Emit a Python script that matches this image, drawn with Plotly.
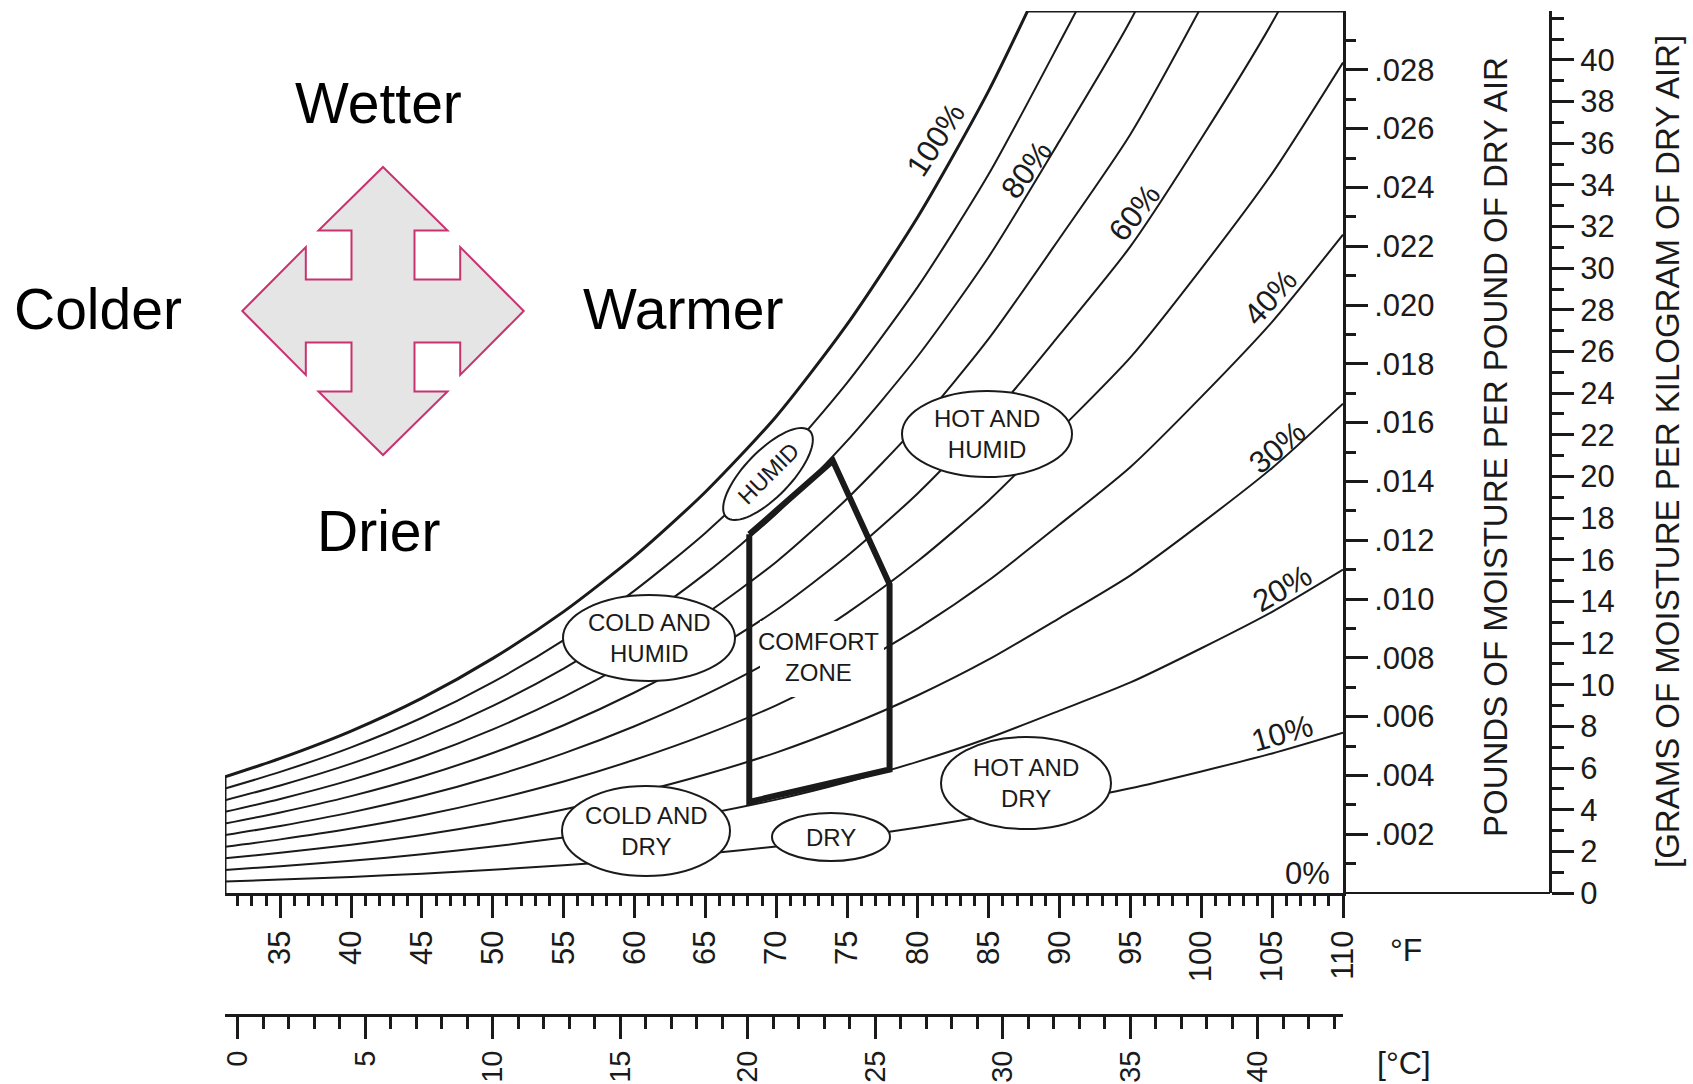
import numpy as np
import plotly.graph_objects as go

FIG_W, FIG_H = 1693, 1084

# ---------------- chart data ----------------
# dry-bulb temperature (deg F) and humidity ratio on the saturation (100 %) curve
TEMP_F = [31.1, 35, 40, 45, 50, 55, 60, 65, 70, 75, 80, 85, 90, 95, 100, 105, 110]
W_SAT = [0.00395, 0.00458, 0.00551, 0.00663, 0.00798, 0.00957, 0.01145, 0.01364,
         0.01621, 0.01934, 0.02300, 0.02729, 0.03231, 0.03754, 0.04398, 0.05096, 0.05918]
RH_LEVELS = [100, 90, 80, 70, 60, 50, 40, 30, 20, 10]
P_ATM = 14.696  # psia
RH_LABELS = ["100%", "80%", "60%", "40%", "30%", "20%", "10%", "0%"]

COMFORT_T = [68.1, 74.0, 78.0, 78.0, 68.1, 68.1]
COMFORT_W = [0.0122, 0.0147, 0.0105, 0.0042, 0.0031, 0.0122]

F_TICKS = list(range(35, 111, 5))
C_TICKS = list(range(0, 41, 5))
W_TICKS = [0.002, 0.004, 0.006, 0.008, 0.010, 0.012, 0.014, 0.016, 0.018, 0.020,
           0.022, 0.024, 0.026, 0.028]
W_TICK_TEXT = [".002", ".004", ".006", ".008", ".010", ".012", ".014", ".016", ".018",
               ".020", ".022", ".024", ".026", ".028"]
G_TICKS = list(range(0, 41, 2))

X_RANGE = [TEMP_F[0], 110]
Y_MAX = 0.0300
G_MAX = 42.35

# ---------------- layout geometry (pixels) ----------------
PLOT_L, PLOT_R, PLOT_T, PLOT_B = 225, 1343, 11, 893
G_AXIS_X = 1550
C_AXIS_Y = 1015
INK = "#1a1a1a"
FONT = "Liberation Sans"


def px(x):
    return x / FIG_W


def py(y):
    return 1 - y / FIG_H


fig = go.Figure()

# relative-humidity curves derived from the saturation curve
ws = np.array(W_SAT)
ps = P_ATM * ws / (0.622 + ws)
for rh in RH_LEVELS:
    pv = rh / 100 * ps
    w = 0.622 * pv / (P_ATM - pv)
    fig.add_trace(go.Scatter(
        x=TEMP_F, y=w, mode="lines",
        line=dict(color=INK, width=3 if rh == 100 else 2, shape="spline", smoothing=0.7),
        hoverinfo="skip", showlegend=False))

# left frame edge (from 0 up to the saturation curve)
fig.add_trace(go.Scatter(x=[TEMP_F[0], TEMP_F[0]], y=[0, W_SAT[0]], mode="lines",
                         line=dict(color=INK, width=3), hoverinfo="skip", showlegend=False))

# comfort zone
fig.add_trace(go.Scatter(x=COMFORT_T, y=COMFORT_W, mode="lines",
                         line=dict(color=INK, width=6), hoverinfo="skip", showlegend=False))

# invisible traces to activate secondary axes
fig.add_trace(go.Scatter(x=[10], y=[0.01], xaxis="x2", yaxis="y", mode="markers",
                         marker=dict(opacity=0), hoverinfo="skip", showlegend=False))
fig.add_trace(go.Scatter(x=[50], y=[10], xaxis="x", yaxis="y2", mode="markers",
                         marker=dict(opacity=0), hoverinfo="skip", showlegend=False))

tick_font = dict(family=FONT, size=31, color=INK)
c_tick_font = dict(family=FONT, size=29, color=INK)
x_dom = [px(PLOT_L), px(PLOT_R)]
y_dom = [py(PLOT_B), py(PLOT_T)]

f_minor = [t for t in range(32, 110) if t % 5]
c_minor = [t for t in range(1, 44) if t % 5]
w_minor = [0.001 * k for k in range(1, 30, 2)]
g_minor = list(range(1, 42, 2)) + [42]

fig.update_layout(
    width=FIG_W, height=FIG_H, autosize=False,
    margin=dict(l=0, r=0, t=0, b=0, pad=0, autoexpand=False),
    paper_bgcolor="white", plot_bgcolor="white",
    showlegend=False,
    font=dict(family=FONT, color=INK),
    xaxis=dict(domain=x_dom, range=X_RANGE, anchor="y", automargin=False,
               tickmode="array", tickvals=F_TICKS, tickangle=-90, tickfont=tick_font,
               ticks="outside", ticklen=22, tickwidth=2.5, tickcolor=INK,
               minor=dict(tickmode="array", tickvals=f_minor, ticks="outside",
                          ticklen=10, tickwidth=2.5, tickcolor=INK, showgrid=False),
               showline=True, linewidth=3, linecolor=INK,
               showgrid=False, zeroline=False, fixedrange=True),
    xaxis2=dict(overlaying="x", anchor="free", position=py(C_AXIS_Y), side="bottom",
                automargin=False,
                range=[(X_RANGE[0] - 32) / 1.8, (X_RANGE[1] - 32) / 1.8],
                tickmode="array", tickvals=C_TICKS, tickangle=-90, tickfont=c_tick_font,
                ticks="outside", ticklen=22, tickwidth=2.5, tickcolor=INK,
                minor=dict(tickmode="array", tickvals=c_minor, ticks="outside",
                           ticklen=12, tickwidth=2.5, tickcolor=INK, showgrid=False),
                showline=True, linewidth=3, linecolor=INK,
                showgrid=False, zeroline=False, fixedrange=True),
    yaxis=dict(domain=y_dom, range=[0, Y_MAX], anchor="x", side="right", automargin=False,
               tickmode="array", tickvals=W_TICKS, ticktext=W_TICK_TEXT, tickfont=tick_font,
               ticks="outside", ticklen=22, tickwidth=2.5, tickcolor=INK,
               minor=dict(tickmode="array", tickvals=w_minor, ticks="outside",
                          ticklen=10, tickwidth=2.5, tickcolor=INK, showgrid=False),
               showline=True, linewidth=3, linecolor=INK,
               showgrid=False, zeroline=False, fixedrange=True),
    yaxis2=dict(overlaying="y", anchor="free", position=px(G_AXIS_X), side="right",
                automargin=False, range=[0, G_MAX],
                tickmode="array", tickvals=G_TICKS, tickfont=tick_font,
                ticks="outside", ticklen=22, tickwidth=2.5, tickcolor=INK,
                minor=dict(tickmode="array", tickvals=g_minor, ticks="outside",
                           ticklen=12, tickwidth=2.5, tickcolor=INK, showgrid=False),
                showline=True, linewidth=3, linecolor=INK,
                showgrid=False, zeroline=False, fixedrange=True),
)

shapes = []
# top frame edge from saturation curve to right axis
x_cross = float(np.interp(Y_MAX, W_SAT, TEMP_F))
shapes.append(dict(type="line", xref="x", yref="y", x0=x_cross, x1=X_RANGE[1],
                   y0=Y_MAX, y1=Y_MAX, line=dict(color=INK, width=3)))
# bottom line extension to the g/kg axis
shapes.append(dict(type="line", xref="paper", yref="paper", x0=px(PLOT_R), x1=px(G_AXIS_X),
                   y0=py(PLOT_B), y1=py(PLOT_B), line=dict(color=INK, width=2)))

# white patch behind "COMFORT ZONE"
shapes.append(dict(type="rect", xref="paper", yref="paper", x0=px(760), x1=px(884),
                   y0=py(697), y1=py(621), fillcolor="white", line=dict(width=0)))


def ellipse(cx, cy, rx, ry):
    return dict(type="circle", xref="paper", yref="paper",
                x0=px(cx - rx), x1=px(cx + rx), y0=py(cy + ry), y1=py(cy - ry),
                fillcolor="white", line=dict(color=INK, width=2))


ELLIPSES = [
    ("HOT AND<br>HUMID", 987, 434, 85, 43),
    ("COLD AND<br>HUMID", 649, 638, 86, 43),
    ("COLD AND<br>DRY", 646, 831, 84, 45),
    ("DRY", 831, 837, 59, 24),
    ("HOT AND<br>DRY", 1026, 783, 85, 46),
]
for _, cx, cy, rx, ry in ELLIPSES:
    shapes.append(ellipse(cx, cy, rx, ry))

# rotated ellipse for "HUMID"
hx, hy, ha, hb, hth = 768, 474, 60, 23, np.radians(46)
tt = np.linspace(0, 2 * np.pi, 73)
ex = hx + ha * np.cos(tt) * np.cos(hth) - hb * np.sin(tt) * np.sin(hth)
ey = hy - (ha * np.cos(tt) * np.sin(hth) + hb * np.sin(tt) * np.cos(hth))
path = "M " + " L ".join(f"{px(a):.5f},{py(b):.5f}" for a, b in zip(ex, ey)) + " Z"
shapes.append(dict(type="path", xref="paper", yref="paper", path=path,
                   fillcolor="white", line=dict(color=INK, width=2)))

# four-way arrow
ARROW = [(383, 167), (447.5, 230.6), (414.5, 230.6), (414.5, 279.4), (460.2, 279.4),
         (460.2, 247.1), (523.7, 311), (460.2, 374.9), (460.2, 342.6), (414.5, 342.6),
         (414.5, 391.4), (447.5, 391.4), (383, 455), (318.5, 391.4), (351.5, 391.4),
         (351.5, 342.6), (305.8, 342.6), (305.8, 374.9), (242.3, 311), (305.8, 247.1),
         (305.8, 279.4), (351.5, 279.4), (351.5, 230.6), (318.5, 230.6)]
apath = "M " + " L ".join(f"{px(a):.5f},{py(b):.5f}" for a, b in ARROW) + " Z"
shapes.append(dict(type="path", xref="paper", yref="paper", path=apath,
                   fillcolor="#e5e5e5", line=dict(color="#c8336f", width=2)))

fig.update_layout(shapes=shapes)

anns = []


def ann(text, x, y, size, angle=0, color=INK):
    anns.append(dict(text=text, x=px(x), y=py(y), xref="paper", yref="paper",
                     xanchor="center", yanchor="middle", showarrow=False,
                     textangle=angle, font=dict(family=FONT, size=size, color=color)))


# direction words
ann("Wetter", 378, 103, 57, color="black")
ann("Colder", 98, 309, 57, color="black")
ann("Warmer", 683, 309, 57, color="black")
ann("Drier", 379, 531, 57, color="black")

# ellipse texts
for text, cx, cy, rx, ry in ELLIPSES:
    ann(text, cx, cy, 24)
ann("HUMID", hx, hy, 23, angle=-45)
ann("COMFORT<br>ZONE", 818, 657, 24)

# RH labels
RH_POS = [(935, 140, -57), (1027, 170, -54), (1135, 213, -52), (1270, 297, -48),
          (1277, 447, -40), (1282, 588, -30), (1282, 733, -16), (1307, 873, 0)]
for lab, (x, y, a) in zip(RH_LABELS, RH_POS):
    ann(lab, x, y, 31, angle=a)

# unit labels and axis titles
ann("°F", 1406, 950, 32)
ann("[°C]", 1404, 1063, 32)
ann("POUNDS OF MOISTURE PER POUND OF DRY AIR", 1495, 447, 33, angle=-90)
ann("[GRAMS OF MOISTURE PER KILOGRAM OF DRY AIR]", 1667, 452, 33, angle=-90)

fig.update_layout(annotations=anns)

fig.write_html("out.html", include_plotlyjs=True, config={"displayModeBar": False})
